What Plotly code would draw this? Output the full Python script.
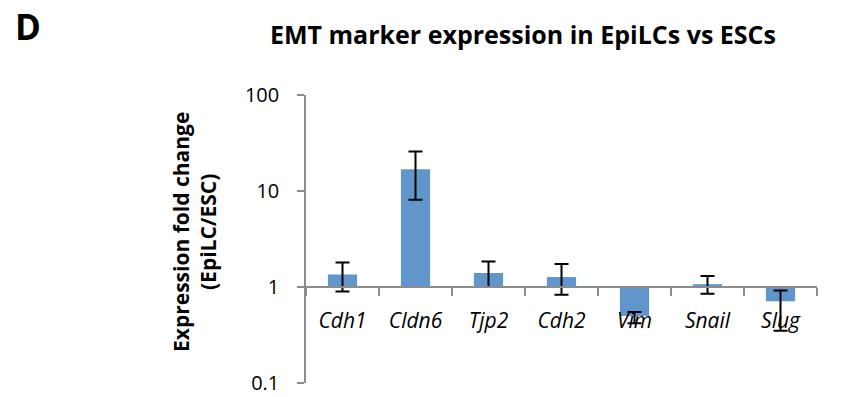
import plotly.graph_objects as go

# EpiLC / ESC expression fold change per marker gene
genes = ["Cdh1", "Cldn6", "Tjp2", "Cdh2", "Vim", "Snail", "Slug"]
fold_change = [1.35, 16.8, 1.40, 1.27, 0.50, 1.07, 0.71]
err_up = [0.45, 9.0, 0.44, 0.47, 0.05, 0.23, 0.21]
err_down = [0.45, 8.7, 0.40, 0.44, 0.08, 0.22, 0.36]

BASELINE = 1.0  # bars grow up or down from a fold change of 1
FONT = "Open Sans"
BAR_BLUE = "#6096CB"
AXIS_GREY = "#8C8C8C"

W, H = 841, 397
M_L, M_R, M_T, M_B = 306, 24, 95, 14
PW, PH = W - M_L - M_R, H - M_T - M_B


def px_x(x):
    return (x - M_L) / PW


def px_y(y):
    return (H - M_B - y) / PH


fig = go.Figure()
fig.add_trace(go.Bar(
    x=genes,
    y=[v - BASELINE for v in fold_change],
    base=[BASELINE] * len(genes),
    width=0.4,
    marker=dict(color=BAR_BLUE, line=dict(width=0)),
    error_y=dict(type="data", symmetric=False, array=err_up, arrayminus=err_down,
                 color="black", thickness=2, width=7),
    cliponaxis=False,
    hoverinfo="skip",
))

fig.update_layout(
    template="none",
    width=W, height=H,
    margin=dict(l=M_L, r=M_R, t=M_T, b=M_B, pad=0, autoexpand=False),
    paper_bgcolor="white", plot_bgcolor="white",
    showlegend=False,
    font=dict(family=FONT, color="black"),
    xaxis=dict(
        type="category", range=[-0.5, len(genes) - 0.5],
        anchor="free", position=1 / 3, automargin=False,
        showline=True, linecolor=AXIS_GREY, linewidth=1.5,
        ticks="outside", tickson="boundaries", ticklen=8, tickcolor=AXIS_GREY, tickwidth=1.5,
        tickfont=dict(family=FONT, size=21, style="italic", color="black"),
        ticklabelstandoff=15,
        showgrid=False, zeroline=False,
    ),
    yaxis=dict(
        type="log", range=[-1, 2], automargin=False,
        tickvals=[0.1, 1, 10, 100], ticktext=["0.1", "1", "10", "100"],
        showline=True, linecolor=AXIS_GREY, linewidth=1.5,
        ticks="outside", ticklen=7, tickcolor=AXIS_GREY, tickwidth=1.5,
        tickfont=dict(family=FONT, size=20, color="black"),
        ticklabelstandoff=14,
        showgrid=False, zeroline=False,
    ),
    annotations=[
        dict(text="<b>D</b>", x=px_x(13), y=px_y(27), xref="paper", yref="paper",
             xanchor="left", yanchor="middle", showarrow=False,
             font=dict(family=FONT, size=35, color="black")),
        dict(text="<b>EMT marker expression in EpiLCs vs ESCs</b>",
             x=px_x(523), y=px_y(34), xref="paper", yref="paper",
             xanchor="center", yanchor="middle", showarrow=False,
             font=dict(family=FONT, size=25, color="black")),
        dict(text="<b>Expression fold change<br>(EpiLC/ESC)</b>",
             x=px_x(194), y=px_y(232), xref="paper", yref="paper",
             xanchor="center", yanchor="middle", textangle=-90, showarrow=False,
             font=dict(family=FONT, size=21, color="black")),
    ],
)

fig.write_html("out.html")
